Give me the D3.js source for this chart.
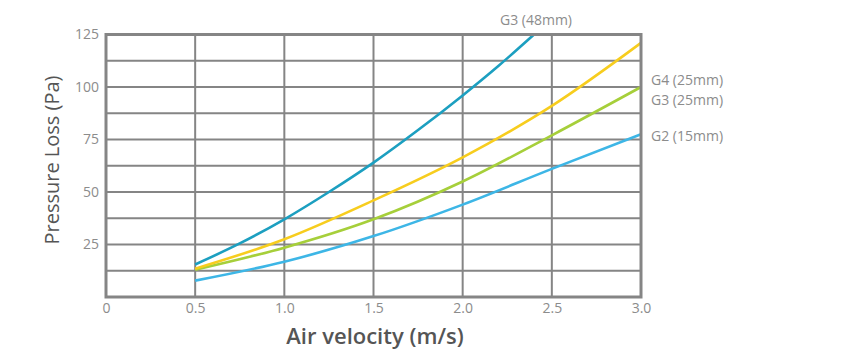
<!DOCTYPE html>
<html><head><meta charset="utf-8">
<script src="https://cdn.jsdelivr.net/npm/d3@7"></script>
<style>body{margin:0;background:#fff;} text{font-family:"Open Sans","Noto Sans",sans-serif;}</style>
</head><body><svg id="c" width="857" height="360"></svg>
<script>
const xTicks = [0, 0.5, 1.0, 1.5, 2.0, 2.5, 3.0];
const yTicks = [25, 50, 75, 100, 125];
const seriesNames = ["G3 (48mm)", "G4 (25mm)", "G3 (25mm)", "G2 (15mm)"];
const seriesColors = ["#1c9fc0", "#f7cd1e", "#a6cf3a", "#3db6e6"];
const velG3_48 = [0.5, 0.75, 1.0, 1.25, 1.5, 1.75, 2.0, 2.2, 2.4];
const valG3_48 = [15.5, 25.5, 37, 50, 64, 79.5, 96, 110, 125];
const velG4_25 = [0.5, 1.0, 1.5, 2.0, 2.5, 3.0];
const valG4_25 = [13.5, 27.5, 46, 66.5, 91, 121];
const velG3_25 = [0.5, 1.0, 1.5, 2.0, 2.5, 3.0];
const valG3_25 = [13, 23.5, 37, 55, 77, 100];
const velG2_15 = [0.5, 1.0, 1.5, 2.0, 2.5, 3.0];
const valG2_15 = [7.8, 16.8, 29, 44, 61, 77.5];

const svg = d3.select("#c");
const L = 106, R = 641, T = 34.5, B = 297;
const x = d3.scaleLinear().domain([0, 3]).range([L, R]);
const y = d3.scaleLinear().domain([0, 125]).range([B, T]);
const grid = "#858585";
const textGray = "#8c8c8c";

const hLines = d3.range(12.5, 125, 12.5);
svg.append("g").selectAll("line").data(hLines).join("line")
  .attr("x1", L).attr("x2", R).attr("y1", d => y(d)).attr("y2", d => y(d))
  .attr("stroke", grid).attr("stroke-width", 2);
svg.append("g").selectAll("line").data(xTicks.slice(1, -1)).join("line")
  .attr("x1", d => x(d)).attr("x2", d => x(d)).attr("y1", T).attr("y2", B)
  .attr("stroke", grid).attr("stroke-width", 2);

const series = [
  [velG3_48, valG3_48], [velG4_25, valG4_25], [velG3_25, valG3_25], [velG2_15, valG2_15]
];
const line = d3.line().x(d => x(d[0])).y(d => y(d[1])).curve(d3.curveMonotoneX);
[3, 2, 1, 0].forEach(i => {
  const pts = series[i][0].map((v, k) => [v, series[i][1][k]]);
  svg.append("path").datum(pts).attr("d", line).attr("fill", "none")
    .attr("stroke", seriesColors[i]).attr("stroke-width", 2.6);
});

svg.append("rect").attr("x", L).attr("y", T).attr("width", R - L).attr("height", B - T)
  .attr("fill", "none").attr("stroke", grid).attr("stroke-width", 3);

const xAxis = d3.axisBottom(x).tickValues(xTicks).tickFormat(d => d === 0 ? "0" : d3.format(".1f")(d)).tickSize(0).tickPadding(6);
const gx = svg.append("g").attr("transform", `translate(0,${B})`).call(xAxis);
const yAxis = d3.axisLeft(y).tickValues(yTicks).tickSize(0).tickPadding(7);
const gy = svg.append("g").attr("transform", `translate(${L},0)`).call(yAxis);
[gx, gy].forEach(g => {
  g.select(".domain").remove();
  g.selectAll("text").attr("fill", textGray).style("font-size", "14px").style("font-family", '"Open Sans","Noto Sans",sans-serif');
});

svg.append("text").attr("x", 375).attr("y", 344).attr("text-anchor", "middle")
  .attr("fill", "#555").style("font-size", "22px").style("font-weight", "600").text("Air velocity (m/s)");
svg.append("text").attr("transform", "translate(59,160) rotate(-90)").attr("text-anchor", "middle")
  .attr("fill", "#555").style("font-size", "20px").text("Pressure Loss (Pa)");

const labelPos = [[536, 25, "middle"], [651, 85, "start"], [651, 105, "start"], [651, 141, "start"]];
seriesNames.forEach((n, i) => {
  svg.append("text").attr("x", labelPos[i][0]).attr("y", labelPos[i][1]).attr("text-anchor", labelPos[i][2])
    .attr("fill", textGray).style("font-size", "14px").text(n);
});
</script></body></html>
